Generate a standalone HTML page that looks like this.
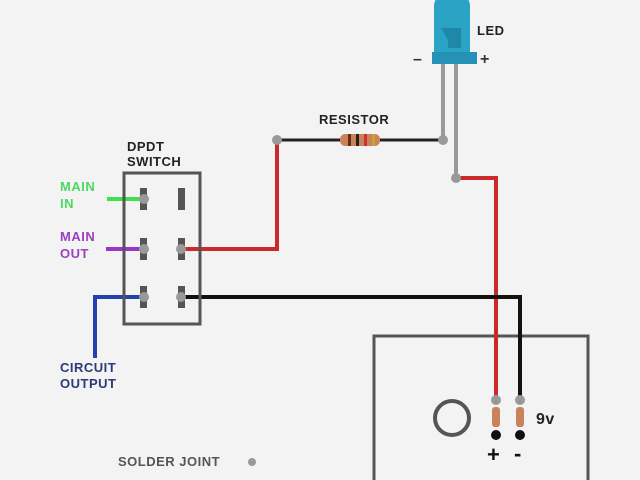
<!DOCTYPE html>
<html><head><style>body{margin:0;background:#f3f3f3}svg{display:block}text{font-family:"Liberation Sans",sans-serif;font-weight:bold;letter-spacing:0.5px}</style></head><body>
<svg width="640" height="480" viewBox="0 0 640 480">
<rect width="640" height="480" fill="#f3f3f3"/>
<rect x="374" y="336" width="214" height="160" fill="none" stroke="#555" stroke-width="3"/>
<circle cx="452" cy="418" r="17" fill="none" stroke="#555" stroke-width="4"/>
<polyline points="443,140 277,140" fill="none" stroke="#222" stroke-width="3"/>
<polyline points="277,141 277,249 183,249" fill="none" stroke="#cc2a2a" stroke-width="4"/>
<polyline points="456,178 496,178 496,400" fill="none" stroke="#cc2a2a" stroke-width="4"/>
<polyline points="183,297 520,297 520,400" fill="none" stroke="#111" stroke-width="4"/>
<line x1="107" y1="199" x2="143" y2="199" stroke="#3fe04a" stroke-width="4"/>
<line x1="106" y1="249" x2="143" y2="249" stroke="#9a35c8" stroke-width="4"/>
<polyline points="95,358 95,297 143,297" fill="none" stroke="#2342b0" stroke-width="4"/>
<rect x="340" y="134" width="40" height="12" rx="5" fill="#c9825a"/>
<rect x="348" y="134" width="3" height="12" fill="#6b2b1a"/><rect x="356" y="134" width="3" height="12" fill="#222"/><rect x="364" y="134" width="3" height="12" fill="#c33"/><rect x="372" y="134" width="3" height="12" fill="#c9a33a"/>
<line x1="443" y1="64" x2="443" y2="140" stroke="#999" stroke-width="4"/>
<line x1="456" y1="64" x2="456" y2="178" stroke="#999" stroke-width="4"/>
<path d="M434,54 L434,6 Q434,-6 452,-6 Q470,-6 470,6 L470,54 Z" fill="#2aa3c4"/>
<path d="M441,28 L461,28 L461,48 L448,48 L448,40 Z" fill="#1f88a8"/>
<rect x="432" y="52" width="45" height="12" fill="#2592b5"/>
<rect x="124" y="173" width="76" height="151" fill="none" stroke="#555" stroke-width="3"/>
<g fill="#555">
<rect x="140" y="188" width="7" height="22"/><rect x="178" y="188" width="7" height="22"/>
<rect x="140" y="238" width="7" height="22"/><rect x="178" y="238" width="7" height="22"/>
<rect x="140" y="286" width="7" height="22"/><rect x="178" y="286" width="7" height="22"/>
</g>
<g fill="#999">
<circle cx="144" cy="199" r="5"/><circle cx="144" cy="249" r="5"/><circle cx="181" cy="249" r="5"/>
<circle cx="144" cy="297" r="5"/><circle cx="181" cy="297" r="5"/>
<circle cx="277" cy="140" r="5"/><circle cx="443" cy="140" r="5"/><circle cx="456" cy="178" r="5"/>
<circle cx="496" cy="400" r="5"/><circle cx="520" cy="400" r="5"/><circle cx="252" cy="462" r="4"/>
</g>
<rect x="492" y="407" width="8" height="20" rx="3" fill="#c9825a"/><rect x="516" y="407" width="8" height="20" rx="3" fill="#c9825a"/>
<circle cx="496" cy="435" r="5" fill="#111"/><circle cx="520" cy="435" r="5" fill="#111"/>
<g font-size="13" fill="#222">
<text x="477" y="35">LED</text>
<text x="319" y="124">RESISTOR</text>
<text x="127" y="151">DPDT</text><text x="127" y="166">SWITCH</text>
<text x="536" y="424" font-size="16">9v</text>
<text x="118" y="466" fill="#555">SOLDER JOINT</text>
</g>
<text x="413" y="64" font-size="16" fill="#333">–</text>
<text x="480" y="64" font-size="16" fill="#334">+</text>
<text x="487" y="462" font-size="22" fill="#111">+</text>
<text x="514" y="461" font-size="22" fill="#111">-</text>
<g font-size="13">
<text x="60" y="191" fill="#4bd864">MAIN</text><text x="60" y="208" fill="#4bd864">IN</text>
<text x="60" y="241" fill="#9c3fc0">MAIN</text><text x="60" y="258" fill="#9c3fc0">OUT</text>
<text x="60" y="372" fill="#2a3a7a">CIRCUIT</text><text x="60" y="388" fill="#2a3a7a">OUTPUT</text>
</g>
</svg>
</body></html>
